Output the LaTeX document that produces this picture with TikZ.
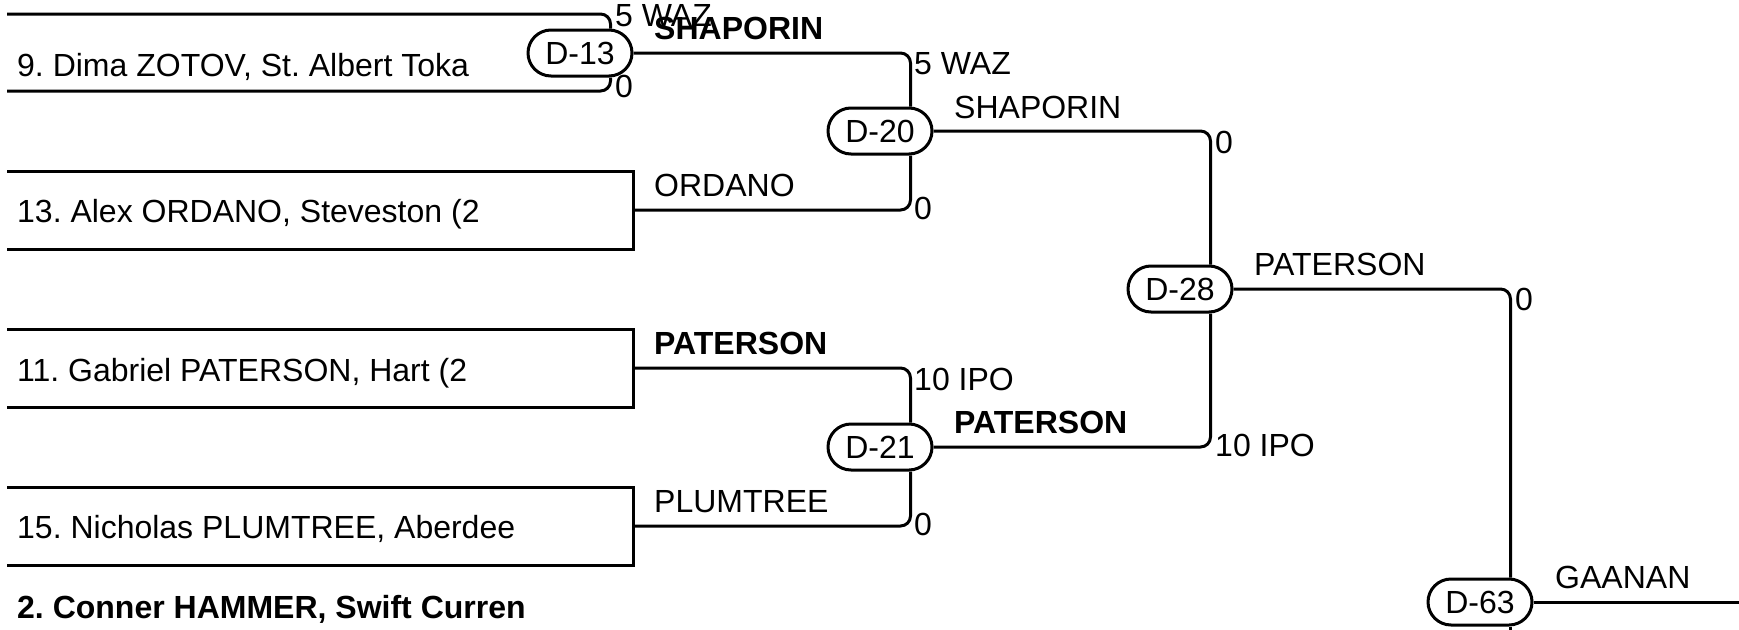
\documentclass[tikz,border=0pt]{standalone}
\usepackage{fontspec}
\setmainfont{Liberation Sans}
\usetikzlibrary{calc}
\frenchspacing
\begin{document}
\begin{tikzpicture}[x=1pt,y=-1pt,
  conn/.style={line width=3pt, rounded corners=10pt},
  boxline/.style={line width=3pt},
  match/.style={draw, line width=3pt, rounded corners=23pt, minimum width=104pt, minimum height=46pt, inner sep=0pt, font=\fontsize{32}{37}\selectfont},
  lbl/.style={anchor=base west, inner sep=0pt, font=\fontsize{32}{37}\selectfont},
  blbl/.style={anchor=base west, inner sep=0pt, font=\fontsize{32}{37}\selectfont\bfseries}]
\useasboundingbox (0,0) rectangle (1739,629);
% match nodes
\node[match] (d13) at (580,53) {D-13};
\node[match] (d20) at (880,131) {D-20};
\node[match] (d21) at (880,447) {D-21};
\node[match] (d28) at (1180,289) {D-28};
\node[match] (d63) at (1480,602) {D-63};
% entry coordinates
\coordinate (e0) at (7,14);
\coordinate (e1) at (7,91);
\coordinate (ordA) at (7,171);
\coordinate (ordB) at (633,249);
\coordinate (ordC) at (7,249);
\coordinate (ordM) at (633,210);
\coordinate (patA) at (7,329);
\coordinate (patB) at (633,407);
\coordinate (patC) at (7,407);
\coordinate (patM) at (633,368);
\coordinate (pluA) at (7,487);
\coordinate (pluB) at (633,565);
\coordinate (pluC) at (7,565);
\coordinate (pluM) at (633,526);
\coordinate (fin) at (1745,602);
% boxes
\draw[boxline] (ordA) -| (ordB) -- (ordC);
\draw[boxline] (patA) -| (patB) -- (patC);
\draw[boxline] (pluA) -| (pluB) -- (pluC);
% connectors
\draw[conn] (e0) -| ($(d13.north east)+(-23,0)$);
\draw[conn] (e1) -| ($(d13.south east)+(-23,0)$);
\draw[conn] (d13.east) -| ($(d20.north east)+(-23,0)$);
\draw[conn] (ordM) -| ($(d20.south east)+(-23,0)$);
\draw[conn] (patM) -| ($(d21.north east)+(-23,0)$);
\draw[conn] (pluM) -| ($(d21.south east)+(-23,0)$);
\draw[conn] (d20.east) -| ($(d28.north east)+(-23,0)$);
\draw[conn] (d21.east) -| ($(d28.south east)+(-23,0)$);
\draw[conn] (d28.east) -| ($(d63.north east)+(-23,0)$);
\draw[conn] (d63.east) -- (fin);
\draw[boxline] ($(d63.south east)+(-23,0)$) -- ++(0,12);
% labels
\node[lbl] (s1) at (615,27) {5 WAZ};
\node[blbl] (w1) at (654,39) {SHAPORIN};
\node[lbl] (s2) at (615,97) {0};
\node[lbl] (s3) at (914,74) {5 WAZ};
\node[lbl] (w2) at (954,118) {SHAPORIN};
\node[lbl] (s4) at (914,219) {0};
\node[lbl] (w3) at (654,196) {ORDANO};
\node[lbl] (s5) at (1215,153) {0};
\node[lbl] (w4) at (1254,275) {PATERSON};
\node[lbl] (s6) at (1515,310) {0};
\node[blbl] (w5) at (654,354) {PATERSON};
\node[lbl] (s7) at (914,390) {10 IPO};
\node[blbl] (w6) at (954,433) {PATERSON};
\node[lbl] (s8) at (1215,456) {10 IPO};
\node[lbl] (w7) at (654,512) {PLUMTREE};
\node[lbl] (s9) at (914,535) {0};
\node[lbl] (w8) at (1555,588) {GAANAN};
% entries
\node[lbl] (n9) at (17,76) {9. Dima ZOTOV, St. Albert Toka};
\node[lbl] (n13) at (17,222) {13. Alex ORDANO, Steveston (2};
\node[lbl] (n11) at (17,381) {11. Gabriel PATERSON, Hart (2};
\node[lbl] (n15) at (17,538) {15. Nicholas PLUMTREE, Aberdee};
\node[blbl] (n2) at (17,618) {2. Conner HAMMER, Swift Curren};
\end{tikzpicture}
\end{document}
